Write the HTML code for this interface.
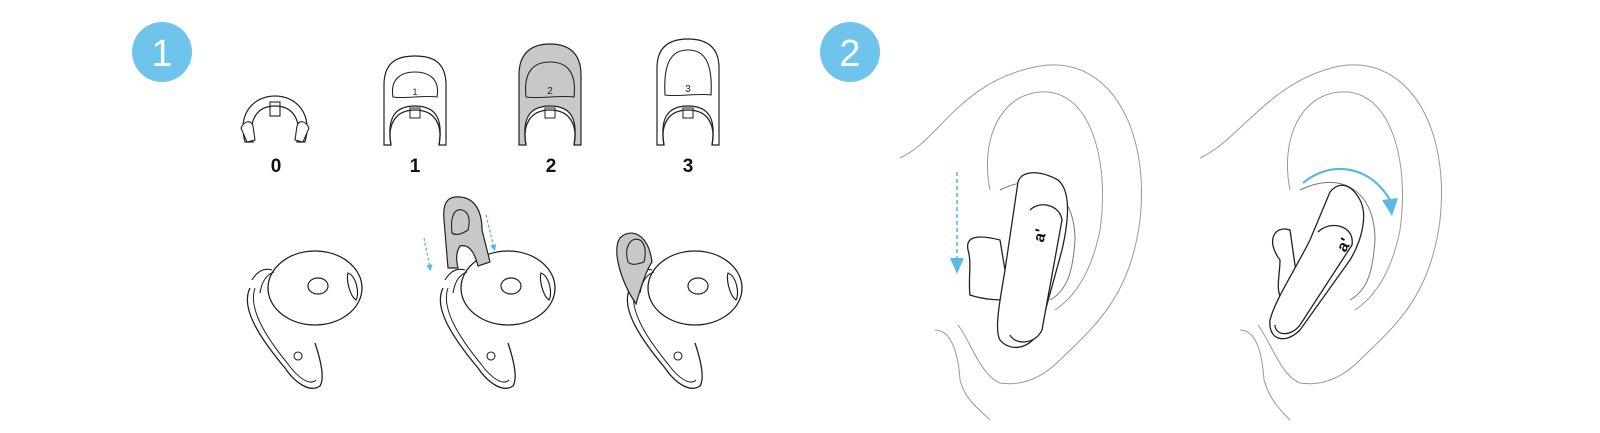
<!DOCTYPE html>
<html><head><meta charset="utf-8"><style>
html,body{margin:0;padding:0;background:#fff;width:1600px;height:433px;overflow:hidden}
svg{display:block}
text{font-family:"Liberation Sans",sans-serif}
</style></head><body>
<svg width="1600" height="433" viewBox="0 0 1600 433" xmlns="http://www.w3.org/2000/svg">
<defs>
<marker id="ah" viewBox="0 0 10 10" refX="5" refY="5" markerWidth="5" markerHeight="5" orient="auto"><path d="M0,0 L10,5 L0,10 z" fill="#5ab8e6"/></marker>
<g id="clip">
  <path d="M-27,40 C-32,0 -20,-18 0,-18 C20,-18 32,0 27,40 L18,40 C22,20 20,-6 0,-6 C-20,-6 -22,20 -18,40 Z" fill="inherit" stroke="#222" stroke-width="1.2"/>
  <rect x="-5" y="-6" width="10" height="12" fill="none" stroke="#222" stroke-width="1.1"/>
</g>
<g id="bud">
  <path d="M-60,0 C-70,20 -50,50 -25,80 C-15,95 0,105 10,98 C15,90 10,70 5,55" fill="none" stroke="#222" stroke-width="1.3"/>
  <path d="M-55,0 C-62,20 -45,48 -22,76 C-12,90 0,98 6,92" fill="none" stroke="#222" stroke-width="1"/>
  <ellipse cx="5" cy="0" rx="47" ry="37" fill="#fff" stroke="#222" stroke-width="1.3"/>
  <ellipse cx="8" cy="-2" rx="10" ry="8" fill="none" stroke="#222" stroke-width="1.2"/>
  <path d="M38,-15 C46,-12 50,5 46,12 C40,8 36,-8 38,-15Z" fill="none" stroke="#222" stroke-width="1.2"/>
  <path d="M-58,-8 C-52,-18 -45,-20 -38,-18 M-50,5 C-48,-8 -42,-14 -36,-16" fill="none" stroke="#222" stroke-width="1.1"/>
  <circle cx="-12" cy="68" r="4" fill="none" stroke="#222" stroke-width="1.1"/>
</g>
</defs>

<circle cx="162" cy="52" r="30" fill="#6ec4ea"/>
<text x="162" y="66" font-size="38" fill="#fff" text-anchor="middle">1</text>
<circle cx="850" cy="52" r="30" fill="#6ec4ea"/>
<text x="850" y="66" font-size="38" fill="#fff" text-anchor="middle">2</text>

<!-- tip 0 -->
<g transform="translate(275,112)" fill="#fff">
  <path d="M-30,30 C-38,0 -20,-16 0,-16 C20,-16 38,0 30,30 L22,30 C27,8 18,-6 0,-6 C-18,-6 -27,8 -22,30 Z" fill="#fff" stroke="#222" stroke-width="1.2"/>
  <path d="M-34,16 C-30,8 -24,8 -22,14 L-20,28 -28,30 Z M34,16 C30,8 24,8 22,14 L20,28 28,30 Z" fill="#fff" stroke="#222" stroke-width="1.1"/>
  <rect x="-5" y="-10" width="10" height="14" fill="none" stroke="#222" stroke-width="1.1"/>
</g>
<!-- tip 1 -->
<g transform="translate(415,0)">
  <path d="M-31,145 L-31,85 C-31,60 -15,56 0,56 C15,56 31,60 31,85 L31,145 L24,145 C28,120 22,106 0,106 C-22,106 -28,120 -24,145 Z" fill="#fff" stroke="#222" stroke-width="1.2"/>
  <path d="M-22,97 C-25,80 -15,72 0,72 C15,72 25,80 22,97 C10,95 -10,99 -22,97Z" fill="none" stroke="#222" stroke-width="1.1"/>
  <text x="0" y="95" font-size="9" text-anchor="middle" fill="#222">1</text>
  <path d="M-24,145 C-28,125 -20,110 0,110 C20,110 28,125 24,145" fill="none" stroke="#222" stroke-width="1.3"/>
  <rect x="-5" y="108" width="10" height="10" fill="none" stroke="#222"/>
</g>
<!-- tip 2 -->
<g transform="translate(550,0)">
  <path d="M-31,145 L-31,75 C-31,50 -15,44 0,44 C15,44 31,50 31,75 L31,145 L24,145 C28,120 22,106 0,106 C-22,106 -28,120 -24,145 Z" fill="#c8c8c8" stroke="#222" stroke-width="1.2"/>
  <path d="M-24,97 C-27,70 -15,62 0,62 C15,62 27,70 24,97 C10,95 -10,99 -24,97Z" fill="none" stroke="#222" stroke-width="1.1"/>
  <text x="0" y="94" font-size="10" text-anchor="middle" fill="#222">2</text>
  <path d="M-24,145 C-28,125 -20,110 0,110 C20,110 28,125 24,145" fill="none" stroke="#222" stroke-width="1.3"/>
  <rect x="-5" y="108" width="10" height="10" fill="none" stroke="#222"/>
</g>
<!-- tip 3 -->
<g transform="translate(688,0)">
  <path d="M-31,145 L-31,68 C-31,44 -15,39 0,39 C15,39 31,44 31,68 L31,145 L24,145 C28,120 22,106 0,106 C-22,106 -28,120 -24,145 Z" fill="#fff" stroke="#222" stroke-width="1.2"/>
  <path d="M-23,95 C-25,60 -15,50 0,50 C15,50 25,60 23,95 C10,93 -10,97 -23,95Z" fill="none" stroke="#222" stroke-width="1.1"/>
  <text x="0" y="92" font-size="10" text-anchor="middle" fill="#222">3</text>
  <path d="M-24,145 C-28,125 -20,110 0,110 C20,110 28,125 24,145" fill="none" stroke="#222" stroke-width="1.3"/>
  <rect x="-5" y="108" width="10" height="10" fill="none" stroke="#222"/>
</g>

<g font-size="19" font-weight="bold" fill="#111" text-anchor="middle">
<text x="276" y="172">0</text><text x="415" y="172">1</text><text x="551" y="172">2</text><text x="688" y="172">3</text>
</g>

<!-- earbuds -->
<use href="#bud" transform="translate(310,288)"/>
<use href="#bud" transform="translate(503,288)"/>
<use href="#bud" transform="translate(690,288)"/>
<!-- gray tip on bud 2 -->
<path d="M448,268 L444,220 C442,200 450,196 460,197 C474,198 482,210 482,230 L490,262 L478,266 C474,250 468,244 460,246 C456,252 456,260 458,268 Z" fill="#c8c8c8" stroke="#222" stroke-width="1.2"/>
<path d="M452,233 C450,218 454,208 462,210 C470,212 470,222 468,230 C462,234 456,236 452,233Z" fill="none" stroke="#222" stroke-width="1.1"/>
<line x1="424" y1="238" x2="430" y2="268" stroke="#5ab8e6" stroke-width="1.3" stroke-dasharray="3,2" marker-end="url(#ah)"/>
<line x1="486" y1="215" x2="494" y2="248" stroke="#5ab8e6" stroke-width="1.3" stroke-dasharray="3,2" marker-end="url(#ah)"/>
<!-- gray tip on bud 3 -->
<path d="M636,304 C620,280 612,250 620,238 C630,228 648,232 652,262 C646,270 640,290 636,304Z" fill="#c8c8c8" stroke="#222" stroke-width="1.2"/>
<path d="M628,262 C624,248 630,236 640,240 C646,244 646,254 644,262 C638,264 632,266 628,262Z" fill="none" stroke="#222" stroke-width="1.1"/>

<!-- ear 1 -->
<g fill="none" stroke="#999" stroke-width="1">
<path d="M900,158 C940,140 960,80 1040,66 C1110,55 1150,130 1140,220 C1130,300 1090,330 1060,360 C1040,380 1020,386 1000,383 C980,375 970,340 958,325"/>
<path d="M990,190 C980,140 1000,95 1040,92 C1090,88 1110,160 1100,230 C1090,280 1070,300 1055,310"/>
<path d="M1000,190 C1040,170 1075,190 1075,240 C1073,270 1068,290 1050,300" stroke="#777"/>
<path d="M935,330 C950,330 958,350 960,380 C965,400 980,410 990,420"/>
</g>
<g fill="#fff" stroke="#222" stroke-width="1.3">
<path d="M1000,240 C980,235 965,235 968,250 C972,262 968,280 970,295 C985,300 998,300 1010,300 Z"/>
<path d="M1018,182 C1022,170 1040,170 1058,180 C1070,190 1070,215 1062,250 L1040,330 C1030,350 1010,352 1000,340 C994,330 1000,300 1005,270 Z"/>
<path d="M1030,210 C1040,200 1060,205 1062,220 L1042,330 C1035,345 1015,345 1010,335"/>
</g>
<text x="1038" y="244" font-size="16" font-weight="bold" fill="#111" transform="rotate(-75 1040 240)">a'</text>
<line x1="957" y1="172" x2="957" y2="262" stroke="#5ab8e6" stroke-width="1.6" stroke-dasharray="4,3"/>
<path d="M950,258 L964,258 L957,274 Z" fill="#5ab8e6"/>

<!-- ear 2 -->
<g fill="none" stroke="#999" stroke-width="1">
<path d="M1200,158 C1240,140 1270,80 1340,66 C1410,55 1450,130 1440,220 C1430,300 1390,330 1360,360 C1340,380 1320,386 1300,383 C1280,375 1270,340 1258,325"/>
<path d="M1290,190 C1280,140 1300,95 1340,92 C1390,88 1410,160 1400,230 C1390,280 1370,300 1355,310"/>
<path d="M1300,190 C1340,170 1375,190 1375,240 C1373,270 1368,290 1350,300" stroke="#777"/>
<path d="M1240,330 C1255,330 1262,350 1264,380 C1270,400 1280,410 1290,420"/>
</g>
<g fill="#fff" stroke="#222" stroke-width="1.3">
<path d="M1290,230 C1275,225 1265,240 1280,260 C1280,275 1275,290 1282,300 C1292,305 1300,300 1300,300 Z"/>
<path d="M1330,192 C1340,180 1352,185 1360,200 C1368,215 1362,240 1350,260 L1300,330 C1285,345 1268,340 1270,320 C1275,300 1295,270 1310,240 Z"/>
<path d="M1318,232 C1330,220 1355,225 1352,245 L1300,325 C1290,338 1275,335 1275,325"/>
</g>
<text x="1340" y="256" font-size="16" font-weight="bold" fill="#111" transform="rotate(-60 1340 250)">a'</text>
<path d="M1303,183 C1330,160 1370,165 1390,200" fill="none" stroke="#5ab8e6" stroke-width="2.2"/>
<path d="M1382,200 L1398,198 L1392,216 Z" fill="#5ab8e6"/>
</svg>
</body></html>
